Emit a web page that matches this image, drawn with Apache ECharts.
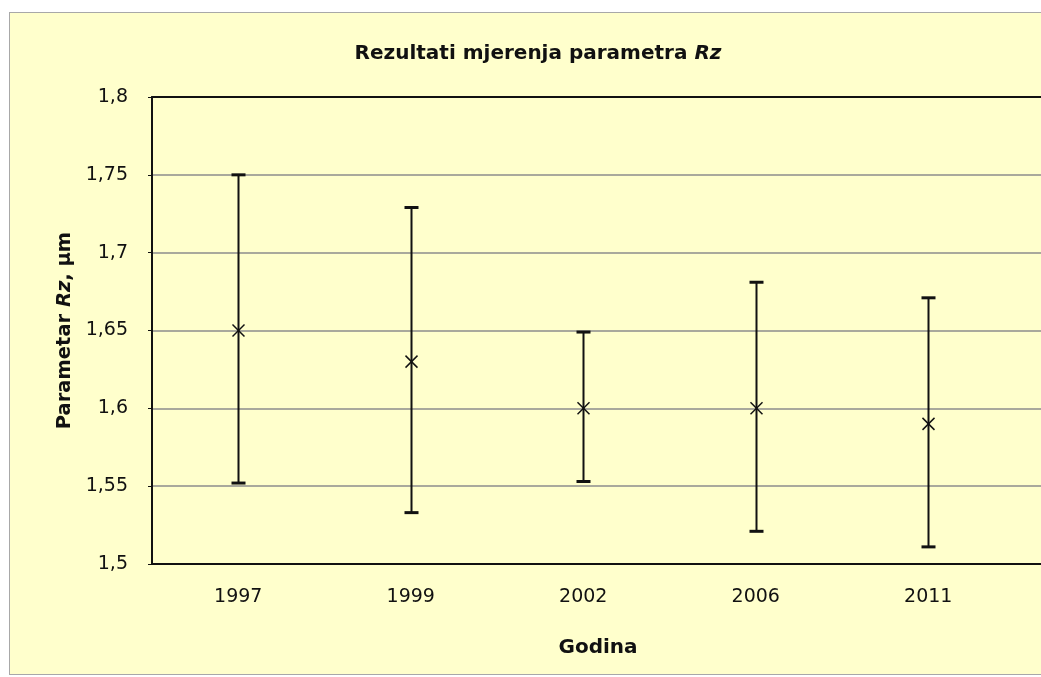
<!DOCTYPE html>
<html>
<head>
<meta charset="utf-8">
<script src="https://cdn.jsdelivr.net/npm/echarts@6/dist/echarts.min.js"></script>
<style>
  html, body { margin: 0; padding: 0; background: #ffffff; }
  #frame {
    position: absolute; left: 9px; top: 12px;
    width: 1040px; height: 661px;
    background: #FFFFCC; border: 1px solid #a8a8a8;
    border-right: none;
  }
  #chart { position: absolute; left: 0; top: 0; width: 1041px; height: 677px; }
</style>
</head>
<body>
<div id="frame"></div>
<div id="chart"></div>
<script>
// Measurement years and Rz results (mean with lower / upper limits), in µm
const years = ['1997', '1999', '2002', '2006', '2011'];
const means = [1.65, 1.63, 1.60, 1.60, 1.59];
const lows  = [1.552, 1.533, 1.553, 1.521, 1.511];
const highs = [1.75, 1.729, 1.649, 1.681, 1.671];

// y-axis range and step
const yMin = 1.5, yMax = 1.8, yStep = 0.05;

const FONT = '"DejaVu Sans", sans-serif';

// one spare, unlabeled slot at the right end keeps the plot running past the edge
const axisCats = years.concat([' ']);

const points = years.map((y, i) => [i, means[i], lows[i], highs[i]]);

const chart = echarts.init(document.getElementById('chart'), null, { renderer: 'canvas' });

chart.setOption({
  animation: false,
  title: [{
    text: '{n|Rezultati mjerenja parametra }{i|Rz}',
    left: 533, top: 39, textAlign: 'center',
    textStyle: {
      rich: {
        n: { fontFamily: FONT, fontWeight: 'bold', fontSize: 20, color: '#111' },
        i: { fontFamily: FONT, fontWeight: 'bold', fontStyle: 'italic', fontSize: 20, color: '#111' }
      }
    }
  }, {
    text: 'Godina',
    left: 593, top: 633, textAlign: 'center',
    textStyle: { fontFamily: FONT, fontWeight: 'bold', fontSize: 20, color: '#111' }
  }],
  grid: {
    left: 152, top: 97, width: 1035, height: 467,
    containLabel: false, outerBoundsMode: 'none'
  },
  xAxis: [{
    type: 'category',
    data: axisCats,
    boundaryGap: true,
    axisLine: { show: true, lineStyle: { color: '#111', width: 2 } },
    axisTick: { show: false },
    axisLabel: { fontFamily: FONT, fontSize: 19, color: '#111', margin: 24, interval: 0 },
    splitLine: { show: false }
  }, {
    type: 'category',
    position: 'top',
    data: axisCats,
    axisLine: { show: true, onZero: false, lineStyle: { color: '#111', width: 2 } },
    axisTick: { show: false },
    axisLabel: { show: false },
    splitLine: { show: false }
  }],
  yAxis: {
    type: 'value',
    min: yMin, max: yMax, interval: yStep,
    name: '{n|Parametar }{i|Rz}{n|, µm}',
    nameLocation: 'middle',
    nameRotate: 90,
    nameGap: 77,
    nameTextStyle: {
      rich: {
        n: { fontFamily: FONT, fontWeight: 'bold', fontSize: 19.5, color: '#111' },
        i: { fontFamily: FONT, fontWeight: 'bold', fontStyle: 'italic', fontSize: 19.5, color: '#111' }
      }
    },
    axisLine: { show: true, lineStyle: { color: '#111', width: 2 } },
    axisTick: { show: true, length: 4, lineStyle: { color: '#111', width: 1 } },
    axisLabel: {
      fontFamily: FONT, fontSize: 19, color: '#111', margin: 24,
      formatter: v => String(Math.round(v * 100) / 100).replace('.', ',')
    },
    splitLine: { show: true, lineStyle: { color: '#8c8c8c', width: 1.5 } }
  },
  series: [{
    type: 'custom',
    xAxisIndex: 0,
    data: points,
    encode: { x: 0, y: [1, 2, 3] },
    renderItem: function (params, api) {
      const i = api.value(0);
      const mid = api.coord([i, api.value(1)]);
      const lo = api.coord([i, api.value(2)]);
      const hi = api.coord([i, api.value(3)]);
      const x = Math.round(mid[0]) + 0.5;
      const cap = 7, mk = 6;
      const stroke = { stroke: '#111', lineWidth: 2 };
      return {
        type: 'group',
        children: [
          { type: 'line', shape: { x1: x, y1: hi[1], x2: x, y2: lo[1] }, style: stroke },
          { type: 'rect', shape: { x: x - cap, y: hi[1] - 1.5, width: cap * 2, height: 3 }, style: { fill: '#111' } },
          { type: 'rect', shape: { x: x - cap, y: lo[1] - 1.5, width: cap * 2, height: 3 }, style: { fill: '#111' } },
          { type: 'line', shape: { x1: x - mk, y1: mid[1] - mk, x2: x + mk, y2: mid[1] + mk }, style: { stroke: '#111', lineWidth: 1.5 } },
          { type: 'line', shape: { x1: x - mk, y1: mid[1] + mk, x2: x + mk, y2: mid[1] - mk }, style: { stroke: '#111', lineWidth: 1.5 } }
        ]
      };
    }
  }]
});
</script>
</body>
</html>
